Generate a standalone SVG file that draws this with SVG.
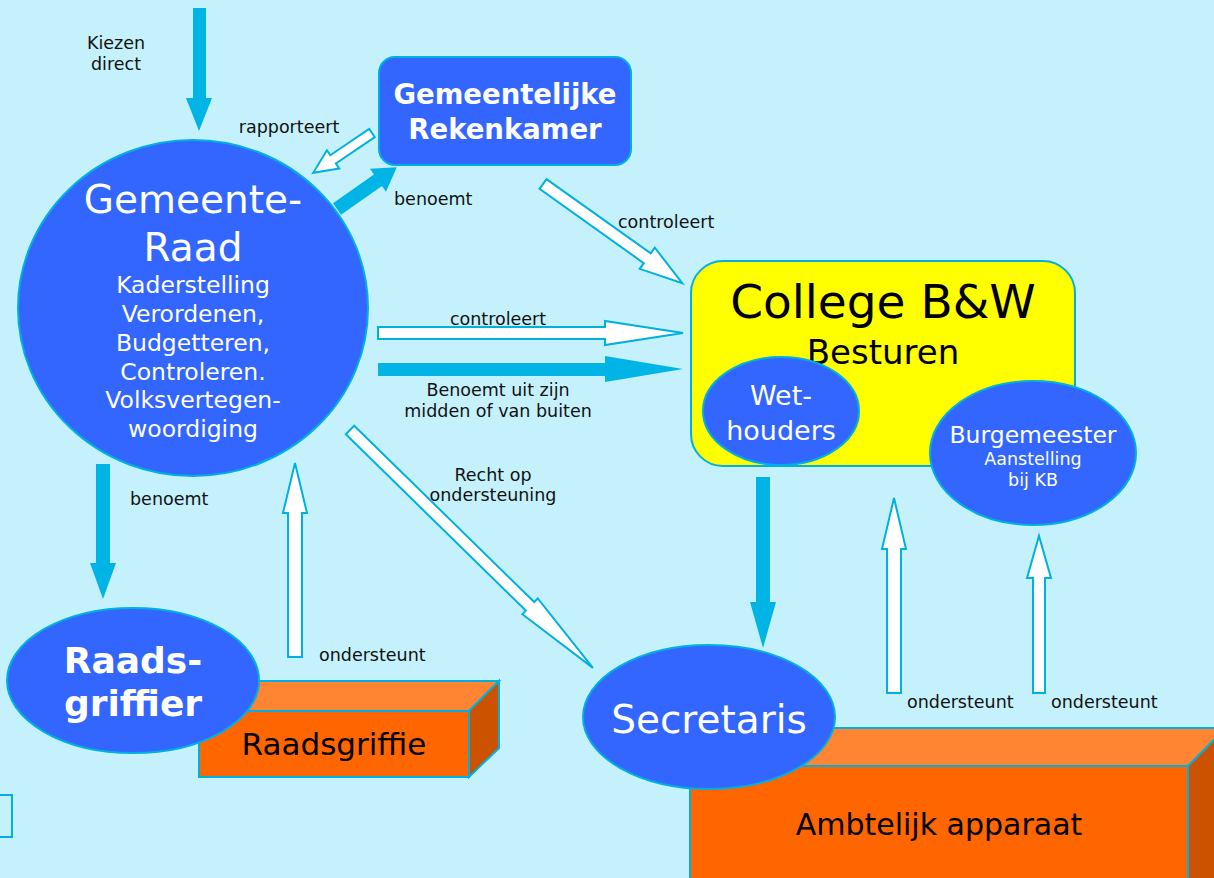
<svg xmlns="http://www.w3.org/2000/svg" width="1214" height="878" viewBox="0 0 1214 878">
<style>
text{font-family:"DejaVu Sans","Liberation Sans",sans-serif;}
.lbl{font-size:17.5px;fill:#111;text-anchor:middle;}
.lbll{font-size:17.5px;fill:#111;}
.node{fill:#3366FF;stroke:#00B0E0;stroke-width:2;}
.w{fill:#fff;text-anchor:middle;}
.hol{fill:#fff;stroke:#00B0E0;stroke-width:2;stroke-linejoin:miter;}
.fil{fill:#00B4E6;stroke:none;}
.front{fill:#FF6600;stroke:#00B0E0;stroke-width:2;}
.top{fill:#FF8533;stroke:#00B0E0;stroke-width:2;}
.side{fill:#CC5200;stroke:#00B0E0;stroke-width:2;}
</style>
<rect x="0" y="0" width="1214" height="878" fill="#C5F1FD"/>

<g id="raadsgriffie">
  <polygon class="top" points="199,711 229,681 499,681 469,711"/>
  <polygon class="side" points="469,711 499,681 499,748 469,777"/>
  <rect class="front" x="199" y="711" width="270" height="66"/>
  <text x="334" y="755" font-size="31" fill="#000" text-anchor="middle">Raadsgriffie</text>
</g>

<g id="ambtelijk">
  <polygon class="top" points="690,766 728,728 1226,728 1188,766"/>
  <polygon class="side" points="1188,766 1226,728 1226,890 1188,890"/>
  <rect class="front" x="690" y="766" width="498" height="124"/>
  <text x="939" y="835" font-size="30" fill="#000" text-anchor="middle">Ambtelijk apparaat</text>
</g>

<g id="college">
  <rect x="691" y="261" width="384" height="205" rx="32" fill="#FFFF00" stroke="#00B0E0" stroke-width="2"/>
  <text x="883" y="318" font-size="47" fill="#000" text-anchor="middle">College B&amp;W</text>
  <text x="883" y="364" font-size="34" fill="#000" text-anchor="middle">Besturen</text>
</g>

<g id="wethouders">
  <ellipse class="node" cx="781" cy="411" rx="78" ry="54"/>
  <text class="w" x="781" y="405" font-size="27">Wet-</text>
  <text class="w" x="781" y="440" font-size="27">houders</text>
</g>

<g id="burgemeester">
  <ellipse class="node" cx="1033" cy="453" rx="103" ry="72"/>
  <text class="w" x="1033" y="443" font-size="23.5">Burgemeester</text>
  <text class="w" x="1033" y="465" font-size="17.5">Aanstelling</text>
  <text class="w" x="1033" y="486" font-size="17.5">bij KB</text>
</g>

<g id="gemeenteraad">
  <ellipse class="node" cx="193" cy="308" rx="175" ry="168"/>
  <text class="w" x="193" y="213" font-size="39">Gemeente-</text>
  <text class="w" x="193" y="261" font-size="39">Raad</text>
  <text class="w" x="193" y="293" font-size="23.5">Kaderstelling</text>
  <text class="w" x="193" y="322" font-size="23.5">Verordenen,</text>
  <text class="w" x="193" y="351" font-size="23.5">Budgetteren,</text>
  <text class="w" x="193" y="380" font-size="23.5">Controleren.</text>
  <text class="w" x="193" y="408" font-size="23.5">Volksvertegen-</text>
  <text class="w" x="193" y="437" font-size="23.5">woordiging</text>
</g>

<g id="rekenkamer">
  <rect class="node" x="379" y="57" width="252" height="108" rx="16"/>
  <text class="w" x="505" y="104" font-size="27.5" font-weight="bold">Gemeentelijke</text>
  <text class="w" x="505" y="139" font-size="27.5" font-weight="bold">Rekenkamer</text>
</g>

<g id="raadsgriffier">
  <ellipse class="node" cx="133" cy="680.5" rx="126" ry="72.5"/>
  <text class="w" x="133" y="673" font-size="36" font-weight="bold">Raads-</text>
  <text class="w" x="133" y="716" font-size="36" font-weight="bold">griffier</text>
</g>

<g id="secretaris">
  <ellipse class="node" cx="709" cy="717" rx="126" ry="72"/>
  <text class="w" x="709" y="733" font-size="39">Secretaris</text>
</g>

<g id="edge-box">
  <rect x="-4" y="795" width="16" height="42" fill="none" stroke="#00B0E0" stroke-width="2"/>
</g>

<g id="connectors">
  <polygon class="fil" points="193,8 206,8 206,98 212,98 199,131 186,98 193,98"/>
  <polygon class="hol" transform="translate(372,133) rotate(145.9)" points="0,-5 47,-5 47,-11 71,0 47,11 47,5 0,5"/>
  <polygon class="fil" transform="translate(337,209) rotate(-35)" points="0,-7 50,-7 50,-14 73,0 50,14 50,7 0,7"/>
  <polygon class="hol" transform="translate(543,184) rotate(35.46)" points="0,-6 128,-6 128,-13 171,0 128,13 128,6 0,6"/>
  <polygon class="hol" points="378,327 605,327 605,321 683,333 605,345 605,339 378,339"/>
  <polygon class="fil" points="378,363 605,363 605,356 683,369 605,382 605,376 378,376"/>
  <polygon class="hol" transform="translate(350,430) rotate(44.4)" points="0,-6 252,-6 252,-11 340,0 252,11 252,6 0,6"/>
  <polygon class="fil" points="96,464 110,464 110,563 116,563 103,599 90,563 96,563"/>
  <polygon class="hol" points="288,657 288,513 283,513 295,463 307,513 302,513 302,657"/>
  <polygon class="fil" points="756,477 770,477 770,602 776,602 763,648 750,602 756,602"/>
  <polygon class="hol" points="887,693 887,549 882,549 894,498 906,549 901,549 901,693"/>
  <polygon class="hol" points="1033,693 1033,578 1027,578 1039,536 1051,578 1045,578 1045,693"/>

  <text class="lbl" x="116" y="49">Kiezen</text>
  <text class="lbl" x="116" y="70">direct</text>
  <text class="lbl" x="289" y="133">rapporteert</text>
  <text class="lbll" x="394" y="205">benoemt</text>
  <text class="lbll" x="618" y="228">controleert</text>
  <text class="lbl" x="498" y="325">controleert</text>
  <text class="lbl" x="498" y="396">Benoemt uit zijn</text>
  <text class="lbl" x="498" y="417">midden of van buiten</text>
  <text class="lbl" x="493" y="481">Recht op</text>
  <text class="lbl" x="493" y="501">ondersteuning</text>
  <text class="lbll" x="130" y="505">benoemt</text>
  <text class="lbll" x="319" y="661">ondersteunt</text>
  <text class="lbll" x="907" y="708">ondersteunt</text>
  <text class="lbll" x="1051" y="708">ondersteunt</text>
</g>
</svg>
